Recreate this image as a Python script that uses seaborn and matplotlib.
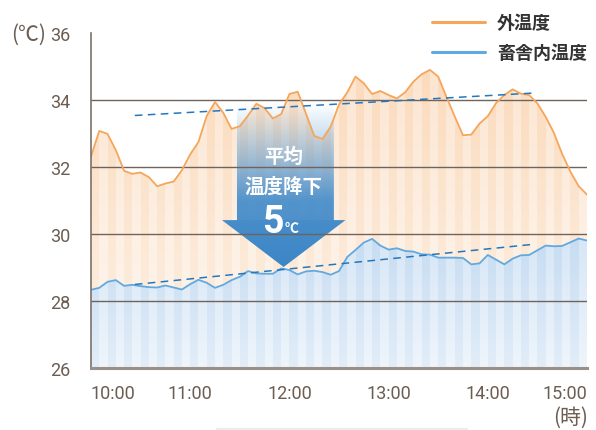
import numpy as np
import pandas as pd
import matplotlib
matplotlib.use("Agg")
import matplotlib.pyplot as plt
import seaborn as sns
from matplotlib.patches import Polygon
from matplotlib.lines import Line2D
from matplotlib.colors import to_rgb

# ---------------- data ----------------
minutes = list(range(0, 301, 5))  # minutes after 10:00
outside_temp = [32.32, 33.08, 32.99, 32.51, 31.89, 31.80, 31.84, 31.70, 31.43, 31.51,
                31.57, 31.91, 32.38, 32.75, 33.53, 33.94, 33.62, 33.14, 33.22, 33.54,
                33.89, 33.76, 33.45, 33.58, 34.18, 34.25, 33.60, 32.93, 32.84, 33.21,
                33.87, 34.23, 34.70, 34.50, 34.18, 34.27, 34.15, 34.05, 34.23, 34.55,
                34.77, 34.90, 34.70, 34.09, 33.51, 32.95, 32.97, 33.30, 33.52, 33.91,
                34.15, 34.32, 34.19, 34.15, 33.90, 33.50, 33.02, 32.39, 31.86, 31.43,
                31.18]
inside_temp = [28.34, 28.40, 28.58, 28.63, 28.46, 28.49, 28.45, 28.42, 28.41, 28.47,
               28.41, 28.35, 28.51, 28.64, 28.55, 28.40, 28.49, 28.63, 28.73, 28.90,
               28.83, 28.82, 28.82, 28.98, 28.93, 28.80, 28.89, 28.91, 28.87, 28.79,
               28.90, 29.32, 29.53, 29.75, 29.86, 29.66, 29.54, 29.58, 29.50, 29.48,
               29.40, 29.39, 29.30, 29.30, 29.30, 29.29, 29.10, 29.13, 29.38, 29.24,
               29.10, 29.27, 29.37, 29.38, 29.52, 29.66, 29.64, 29.65, 29.76, 29.87,
               29.81]
hour_ticks = [0, 60, 120, 180, 240, 300]
hour_labels = ["10:00", "11:00", "12:00", "13:00", "14:00", "15:00"]
y_ticks = [26, 28, 30, 32, 34, 36]
trend_minutes = [26.5, 268]
outside_trend = [33.54, 34.21]
inside_trend = [28.50, 29.70]
series_names = ["外温度", "畜舎内温度"]
arrow_lines = ["平均", "温度降下"]
drop_value = "5"
drop_unit = "℃"

# ---------------- style ----------------
sns.set_theme(style="white")
plt.rcParams["font.family"] = ["Roboto", "Noto Sans CJK JP", "DejaVu Sans"]
CJK = ["Noto Sans CJK JP", "DejaVu Sans"]

ORANGE = "#f5a65b"
BLUE = "#62a9df"
TREND = "#2477bd"
TICK = "#6b5d52"
GRID = "#6f635a"

df = pd.DataFrame({"minutes": minutes, "outside": outside_temp, "inside": inside_temp})

fig = plt.figure(figsize=(5.96, 4.31), dpi=100)
ax = fig.add_axes([91 / 596, 1 - 369.3 / 431, 496 / 596, 335.3 / 431])


def striped_fill(ax, x, y, base, ytop, ybot, c_top, c_bot, z):
    poly = ax.fill_between(x, y, base, facecolor="none", edgecolor="none")
    path = poly.get_paths()[0]
    poly.remove()
    nrows = 256
    ncols = len(x) - 1
    t = np.linspace(0, 1, nrows)[:, None, None]
    img = np.empty((nrows, ncols, 3))
    for k in range(2):
        top = np.array(to_rgb(c_top[k]))
        bot = np.array(to_rgb(c_bot[k]))
        col = top * (1 - t) + bot * t
        img[:, k::2, :] = col[:, 0:1, :]
    im = ax.imshow(img, extent=[x[0], x[-1], ybot, ytop], aspect="auto",
                   origin="upper", zorder=z, interpolation="nearest")
    im.set_clip_path(path, ax.transData)
    return im


striped_fill(ax, df["minutes"].values, df["outside"].values, 26, 35.2, 26,
             ["#fbdabb", "#fce5d0"], ["#fdf2e7", "#fef8f2"], 1)
striped_fill(ax, df["minutes"].values, df["inside"].values, 26, 30.0, 26,
             ["#c6dcf2", "#d6e6f6"], ["#e2edf8", "#eef5fb"], 2)

# ---------------- arrow ----------------
shaft_l, shaft_r = 88.3, 146.9
head_l, head_r = 79.2, 153.9
tip_x, tip_y = 116.5, 29.02
head_y, top_y = 30.42, 33.9
arrow_poly = Polygon([(shaft_l, top_y), (shaft_r, top_y), (shaft_r, head_y),
                      (head_r, head_y), (tip_x, tip_y), (head_l, head_y),
                      (shaft_l, head_y)], closed=True, transform=ax.transData)
nrows = 300
vals = np.linspace(top_y, tip_y, nrows)
alpha = np.clip((top_y - vals) / (top_y - 31.0), 0, 1) * 0.95
alpha[vals <= head_y] = 1.0
c1 = np.array(to_rgb("#5d9dd3"))
c2 = np.array(to_rgb("#3d86c6"))
tt = np.linspace(0, 1, nrows)[:, None]
rgb = c1 * (1 - tt) + c2 * tt
arr_img = np.concatenate([rgb, alpha[:, None]], axis=1)[:, None, :].repeat(4, axis=1)
aim = ax.imshow(arr_img, extent=[head_l, head_r, tip_y, top_y], aspect="auto",
                origin="upper", zorder=3)
aim.set_clip_path(arrow_poly)

# ---------------- grid ----------------
for yv in y_ticks[1:-1]:
    ax.axhline(yv, color=GRID, lw=1.0, zorder=4)

# ---------------- lines ----------------
sns.lineplot(data=df, x="minutes", y="outside", color=ORANGE, lw=1.3, ax=ax, zorder=5)
sns.lineplot(data=df, x="minutes", y="inside", color=BLUE, lw=1.3, ax=ax, zorder=5)
ax.plot(trend_minutes, outside_trend, color=TREND, lw=1.1, dashes=(5, 3.5), zorder=6)
ax.plot(trend_minutes, inside_trend, color=TREND, lw=1.1, dashes=(5, 3.5), zorder=6)

# ---------------- arrow text ----------------
ax.text(116.7, 32.31, arrow_lines[0], color="white", fontsize=14, fontweight="bold",
        ha="center", va="center", family=CJK, zorder=7)
ax.text(116.7, 31.44, arrow_lines[1], color="white", fontsize=14, fontweight="bold",
        ha="center", va="center", family=CJK, zorder=7)
ax.text(116.4, 30.07, drop_value, color="white", fontsize=27, fontweight="bold",
        ha="right", va="baseline", family=["Roboto", "DejaVu Sans"], zorder=7)
ax.text(116.9, 30.07, drop_unit, color="white", fontsize=10, fontweight="bold",
        ha="left", va="baseline", family=CJK, zorder=7)

# ---------------- axes ----------------
ax.set_xlim(0, 300)
ax.set_ylim(26, 36)
ax.set_yticks(y_ticks)
ax.set_yticklabels([str(v) for v in y_ticks])
ax.set_xticks(hour_ticks)
ax.set_xticklabels(hour_labels)
xl = ax.get_xticklabels()
xl[0].set_ha("left")
xl[-1].set_ha("right")
ax.tick_params(axis="y", length=0, pad=15, labelsize=13, labelcolor=TICK)
ax.tick_params(axis="x", length=0, pad=11, labelsize=13, labelcolor=TICK)
ax.set_xlabel("")
ax.set_ylabel("")
for s in ["top", "right"]:
    ax.spines[s].set_visible(False)
ax.spines["left"].set_color("#7d716a")
ax.spines["left"].set_linewidth(1.2)
ax.spines["bottom"].set_color("#9b9089")
ax.spines["bottom"].set_linewidth(2.2)
ax.spines["left"].set_zorder(8)
ax.spines["bottom"].set_zorder(8)

fig.text(11 / 596, 1 - 35 / 431, "(℃)", fontsize=15, color=TICK, ha="left", va="center",
         family=CJK)
fig.text(588 / 596, 1 - 418 / 431, "(時)", fontsize=15, color=TICK, ha="right",
         va="center", family=CJK)

handles = [Line2D([], [], color=ORANGE, lw=2.2), Line2D([], [], color=BLUE, lw=2.2)]
leg = fig.legend(handles, series_names, loc="upper left",
                 bbox_to_anchor=(432 / 596, 1 - 14 / 431), frameon=False,
                 prop={"family": CJK, "size": 13, "weight": "bold"},
                 handlelength=2.93, handletextpad=0.66, labelspacing=0.63,
                 borderpad=0, borderaxespad=0)
for t in leg.get_texts():
    t.set_color("#333333")

fig.add_artist(Line2D([217 / 596, 467 / 596], [1 - 430 / 431, 1 - 430 / 431],
                      color="#ececec", lw=1.6, transform=fig.transFigure))

fig.savefig("out.png", dpi=100)
